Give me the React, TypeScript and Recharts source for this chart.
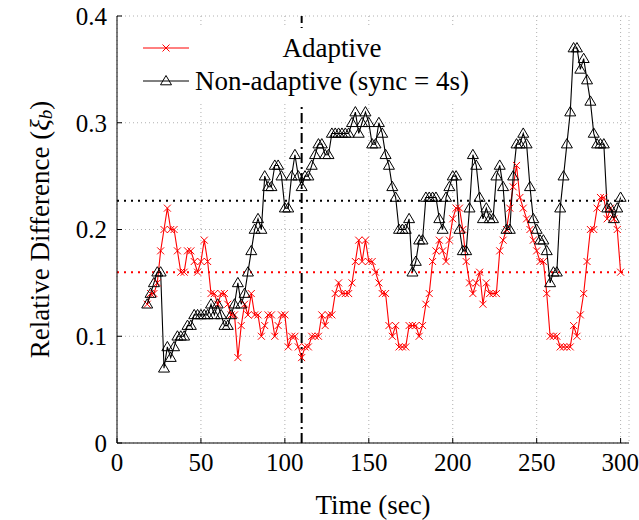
import React from 'react';
import { ComposedChart, Line, XAxis, YAxis, CartesianGrid, ReferenceLine, Legend, Label } from 'recharts';

// sample times (sec)
const TIME = [
  18, 20, 22, 24, 26, 28, 30, 32, 34, 36,
  38, 40, 42, 44, 46, 48, 50, 52, 54, 56,
  58, 60, 62, 64, 66, 68, 70, 72, 74, 76,
  78, 80, 82, 84, 86, 88, 90, 92, 94, 96,
  98, 100, 102, 104, 106, 108, 110, 112, 114, 116,
  118, 120, 122, 124, 126, 128, 130, 132, 134, 136,
  138, 140, 142, 144, 146, 148, 150, 152, 154, 156,
  158, 160, 162, 164, 166, 168, 170, 172, 174, 176,
  178, 180, 182, 184, 186, 188, 190, 192, 194, 196,
  198, 200, 202, 204, 206, 208, 210, 212, 214, 216,
  218, 220, 222, 224, 226, 228, 230, 232, 234, 236,
  238, 240, 242, 244, 246, 248, 250, 252, 254, 256,
  258, 260, 262, 264, 266, 268, 270, 272, 274, 276,
  278, 280, 282, 284, 286, 288, 290, 292, 294, 296,
  298, 300,
];

const ADAPTIVE = [
  0.13, 0.14, 0.14, 0.15, 0.18, 0.20, 0.22, 0.20, 0.20, 0.18,
  0.16, 0.16, 0.18, 0.18, 0.17, 0.16, 0.17, 0.19, 0.17, 0.14,
  0.14, 0.13, 0.14, 0.14, 0.13, 0.12, 0.12, 0.08, 0.11, 0.13,
  0.12, 0.14, 0.12, 0.12, 0.10, 0.11, 0.12, 0.12, 0.10, 0.11,
  0.12, 0.12, 0.09, 0.10, 0.10, 0.09, 0.08, 0.09, 0.09, 0.10,
  0.10, 0.10, 0.12, 0.11, 0.12, 0.12, 0.14, 0.15, 0.14, 0.14,
  0.14, 0.15, 0.17, 0.19, 0.17, 0.19, 0.17, 0.17, 0.16, 0.15,
  0.14, 0.14, 0.11, 0.10, 0.11, 0.09, 0.09, 0.09, 0.11, 0.11,
  0.11, 0.10, 0.11, 0.13, 0.14, 0.17, 0.18, 0.19, 0.18, 0.17,
  0.19, 0.21, 0.22, 0.22, 0.20, 0.17, 0.15, 0.14, 0.15, 0.16,
  0.13, 0.15, 0.14, 0.14, 0.14, 0.18, 0.19, 0.20, 0.22, 0.24,
  0.26, 0.23, 0.22, 0.21, 0.20, 0.19, 0.18, 0.17, 0.17, 0.14,
  0.10, 0.10, 0.10, 0.09, 0.09, 0.09, 0.09, 0.11, 0.10, 0.12,
  0.14, 0.17, 0.20, 0.20, 0.22, 0.23, 0.23, 0.21, 0.22, 0.21,
  0.20, 0.16,
];

const NON_ADAPTIVE = [
  0.13, 0.14, 0.15, 0.16, 0.16, 0.07, 0.09, 0.08, 0.09, 0.10,
  0.10, 0.10, 0.11, 0.11, 0.12, 0.12, 0.12, 0.12, 0.12, 0.13,
  0.12, 0.13, 0.12, 0.11, 0.11, 0.12, 0.13, 0.15, 0.13, 0.14,
  0.16, 0.18, 0.20, 0.21, 0.20, 0.25, 0.24, 0.24, 0.26, 0.26,
  0.25, 0.22, 0.22, 0.25, 0.27, 0.25, 0.24, 0.25, 0.25, 0.26,
  0.27, 0.28, 0.28, 0.27, 0.27, 0.29, 0.29, 0.29, 0.29, 0.29,
  0.29, 0.30, 0.31, 0.29, 0.30, 0.31, 0.30, 0.28, 0.28, 0.30,
  0.29, 0.27, 0.26, 0.24, 0.23, 0.20, 0.20, 0.20, 0.21, 0.16,
  0.17, 0.19, 0.19, 0.23, 0.23, 0.23, 0.23, 0.21, 0.20, 0.23,
  0.24, 0.25, 0.25, 0.20, 0.18, 0.18, 0.22, 0.27, 0.26, 0.23,
  0.21, 0.22, 0.21, 0.21, 0.25, 0.26, 0.24, 0.20, 0.20, 0.25,
  0.28, 0.28, 0.29, 0.28, 0.24, 0.21, 0.20, 0.19, 0.19, 0.18,
  0.15, 0.16, 0.16, 0.22, 0.25, 0.28, 0.31, 0.37, 0.37, 0.35,
  0.36, 0.34, 0.32, 0.29, 0.28, 0.28, 0.28, 0.22, 0.22, 0.21,
  0.22, 0.23,
];

// averages drawn as dotted lines, and the marked instant
const ADAPTIVE_MEAN = 0.16;
const NON_ADAPTIVE_MEAN = 0.227;
const MARK_TIME = 110;

const X_TICKS = [0, 50, 100, 150, 200, 250, 300];
const Y_TICKS = [0, 0.1, 0.2, 0.3, 0.4];

const data = TIME.map((t, i) => ({ t, adaptive: ADAPTIVE[i], nonAdaptive: NON_ADAPTIVE[i] }));

const FONT = '"Liberation Serif", "Times New Roman", serif';
const RED = '#ff0000';

const Cross = (props: any) => {
  const { cx, cy, index } = props;
  if (cx == null || cy == null) return <g key={index} />;
  const r = 3.5;
  return (
    <g key={index} stroke={RED} strokeWidth={1}>
      <line x1={cx - r} y1={cy - r} x2={cx + r} y2={cy + r} />
      <line x1={cx - r} y1={cy + r} x2={cx + r} y2={cy - r} />
    </g>
  );
};

const Triangle = (props: any) => {
  const { cx, cy, index } = props;
  if (cx == null || cy == null) return <g key={index} />;
  return (
    <polygon
      key={index}
      points={`${cx},${cy - 5.5} ${cx - 5.5},${cy + 3.8} ${cx + 5.5},${cy + 3.8}`}
      fill="none"
      stroke="#000"
      strokeWidth={1}
    />
  );
};

const NoTick = () => <g />;

const YTitle = (props: any) => {
  const { viewBox } = props;
  const cx = 40;
  const cy = viewBox.y + viewBox.height / 2;
  return (
    <text
      x={cx}
      y={cy}
      transform={`rotate(-90 ${cx} ${cy})`}
      textAnchor="middle"
      dominantBaseline="central"
      fontFamily={FONT}
      fontSize={27}
      fill="#000"
    >
      Relative Difference (<tspan fontStyle="italic">ξ</tspan>
      <tspan fontStyle="italic" fontSize={19} dy={5}>b</tspan>
      <tspan dy={-5}>)</tspan>
    </text>
  );
};

const XTitle = (props: any) => {
  const { viewBox } = props;
  return (
    <text
      x={viewBox.x + viewBox.width / 2}
      y={505}
      textAnchor="middle"
      dominantBaseline="central"
      fontFamily={FONT}
      fontSize={27}
      fill="#000"
    >
      Time (sec)
    </text>
  );
};

const LegendBox = () => (
  <div style={{ position: 'relative', width: 353, height: 75, background: '#fff', fontFamily: FONT, fontSize: 27, color: '#000' }}>
    <div style={{ position: 'absolute', left: 0, top: 3, width: 353, height: 34 }}>
      <svg width={50} height={34} style={{ position: 'absolute', left: 16, top: 0 }}>
        <line x1={2} y1={17} x2={48} y2={17} stroke={RED} strokeWidth={1} />
        <Cross cx={25} cy={17} />
      </svg>
      <div style={{ position: 'absolute', left: 69, width: 276, top: 0, lineHeight: '34px', textAlign: 'center' }}>Adaptive</div>
    </div>
    <div style={{ position: 'absolute', left: 0, top: 36, width: 353, height: 34 }}>
      <svg width={50} height={34} style={{ position: 'absolute', left: 16, top: 0 }}>
        <line x1={2} y1={17} x2={48} y2={17} stroke="#000" strokeWidth={1} />
        <Triangle cx={25} cy={17} />
      </svg>
      <div style={{ position: 'absolute', left: 69, width: 276, top: 0, lineHeight: '34px', textAlign: 'center', whiteSpace: 'nowrap' }}>
        Non-adaptive (sync = 4s)
      </div>
    </div>
  </div>
);

const tickStyle = { fontFamily: FONT, fontSize: 25, fill: '#000' };

export default function App() {
  return (
    <div style={{ position: 'absolute', left: 0, top: 0 }}>
      <ComposedChart width={639} height={520} data={data} margin={{ top: 16, right: 10, bottom: 27, left: 57 }}>
        <CartesianGrid stroke="#b0b0b0" strokeDasharray="1 3" />
        <XAxis
          dataKey="t"
          type="number"
          domain={[0, 305]}
          ticks={X_TICKS}
          height={50}
          tickSize={-5}
          tickMargin={15}
          tick={tickStyle}
          stroke="#000"
          tickLine={{ stroke: '#000' }}
          axisLine={{ stroke: '#000' }}
        >
          <Label content={XTitle} />
        </XAxis>
        <XAxis
          xAxisId="top"
          orientation="top"
          dataKey="t"
          type="number"
          domain={[0, 305]}
          ticks={X_TICKS}
          height={0}
          tickSize={-5}
          tick={NoTick}
          stroke="#000"
        />
        <YAxis
          type="number"
          domain={[0, 0.4]}
          ticks={Y_TICKS}
          width={60}
          tickSize={-5}
          tickMargin={15}
          tick={tickStyle}
          tickFormatter={(v: number) => (v === 0 ? '0' : v.toFixed(1))}
          stroke="#000"
        >
          <Label content={YTitle} />
        </YAxis>
        <YAxis
          yAxisId="right"
          orientation="right"
          type="number"
          domain={[0, 0.4]}
          ticks={Y_TICKS}
          width={0}
          tickSize={-5}
          tick={NoTick}
          stroke="#000"
        />
        <ReferenceLine y={NON_ADAPTIVE_MEAN} stroke="#000" strokeWidth={2} strokeDasharray="2 5" />
        <ReferenceLine y={ADAPTIVE_MEAN} stroke={RED} strokeWidth={2} strokeDasharray="2 5" />
        <ReferenceLine x={MARK_TIME} stroke="#000" strokeWidth={2} strokeDasharray="10 4 2 4" />
        <Line
          dataKey="adaptive"
          stroke={RED}
          strokeWidth={1.1}
          dot={Cross}
          activeDot={false}
          isAnimationActive={false}
        />
        <Line
          dataKey="nonAdaptive"
          stroke="#000"
          strokeWidth={1.1}
          dot={Triangle}
          activeDot={false}
          isAnimationActive={false}
        />
        <Legend
          layout="horizontal"
          verticalAlign="middle"
          align="center"
          content={LegendBox}
          wrapperStyle={{ left: 125, top: 28, width: 353, height: 75 }}
        />
      </ComposedChart>
    </div>
  );
}
